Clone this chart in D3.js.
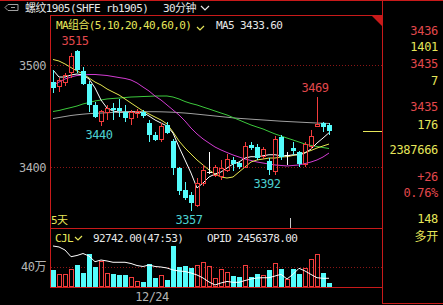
<!DOCTYPE html>
<html lang="zh">
<head>
<meta charset="UTF-8">
<title>螺纹1905 30分钟</title>
<script src="https://d3js.org/d3.v7.min.js"></script>
<style>
  body { margin: 0; background: #000; }
  svg { display: block; }
  text { font-family: "DejaVu Sans Mono", "Noto Sans CJK SC", monospace; }
</style>
</head>
<body>
<svg id="chart" width="443" height="305"></svg>
<script>
// 30-minute candles
const opens = [3483.6,3479,3483,3493,3514,3494,3481,3461,3444.5,3453.6,3458,3458,3453.6,3448,3452,3454,3443,3431,3426.5,3441,3425.5,3398.7,3377.5,3372.5,3362.5,3384,3395,3392,3390.5,3397,3407,3403.6,3400,3421.6,3420,3410,3405.9,3395.5,3429.7,3411,3419,3415,3402,3420,3439.5,3443,3441];
const highs = [3495,3487,3492.5,3512,3515,3498,3484,3464,3456,3461,3463,3467,3461,3456,3457,3456,3446,3434.6,3443,3444,3427,3400,3385.6,3375.8,3389,3402,3415,3402,3407,3413,3410,3405,3425,3425,3423,3420,3408.5,3430,3431,3415,3425,3415.7,3425,3436,3469,3444.4,3443];
const lows = [3472.5,3474,3479,3487,3492,3480,3454,3448,3440,3446,3446,3449,3444,3441,3448,3448,3425,3425.5,3424.5,3432,3392,3373,3367.6,3357,3361,3381,3393,3390,3387,3395.5,3395.6,3398.5,3399,3416.7,3407,3408,3392,3392,3407,3402,3412,3400,3400.3,3418,3439.5,3434.6,3431.4];
const closes = [3477,3485,3490,3508,3495,3481,3461,3449,3454,3457,3456,3455,3448,3453.6,3454,3450,3431,3426.5,3439.5,3433,3398.7,3376,3369.3,3364.4,3384,3397,3395,3400,3399,3407,3402.6,3400,3420,3419,3408.5,3416.7,3397,3426.5,3410,3411,3415.7,3402.6,3421.6,3429.7,3441.8,3439.5,3435];

// moving averages as drawn
const ma5 = [3495.1,3488.2,3488.2,3490.2,3491.2,3490.2,3486.3,3477.5,3465.7,3457.8,3454.9,3453.9,3453.9,3453.9,3453.9,3453.4,3450,3446.1,3443.1,3440.2,3433.3,3419.6,3406.9,3394.1,3379.4,3384.3,3390.2,3393.1,3395.1,3399,3402.9,3404.9,3408.8,3410.1,3410,3411,3412,3412,3411,3411,3412,3411.8,3413.7,3417.6,3423.5,3428.4,3433.6];
const ma10 = [3505.4,3503.9,3501,3497.5,3494.1,3491.2,3487.3,3483.3,3480.4,3476.5,3473.5,3470.6,3466.7,3462.7,3458.8,3454.9,3452,3449,3446.1,3442.2,3434.3,3425.5,3418.6,3412.7,3406.9,3402,3397.1,3393.1,3390.2,3389.2,3390.2,3395.1,3400,3404.9,3406.9,3407.8,3408.8,3408.8,3409.8,3410.1,3411.3,3412.7,3414.2,3416.2,3418.6,3420.6,3422.5];
const ma20 = [3480.4,3483.3,3486.3,3488.2,3489.7,3490.2,3490.7,3490.7,3490.2,3489.7,3488.7,3487.7,3486.8,3485.3,3482.4,3478.4,3474.5,3469.6,3465.7,3460.8,3455.9,3451,3445.1,3438.2,3432.4,3427.5,3423.5,3419.6,3416.7,3414.2,3411.8,3409.8,3407.8,3406.4,3404.9,3403.9,3402.9,3402,3401.5,3401,3401.5,3402,3403.4,3404.9,3406.9,3409.8,3413.7];
const ma40 = [3454.4,3455.4,3456.9,3458.3,3459.8,3461.8,3463.2,3464.7,3465.7,3466.7,3467.2,3467.6,3468.1,3468.6,3468.8,3469.1,3469.3,3469.6,3469.6,3469.6,3468.6,3466.7,3464.2,3462.3,3460.8,3458.8,3456.9,3454.9,3452.9,3451,3448.5,3446.1,3443.6,3441.2,3439.2,3437.3,3434.8,3432.4,3430.4,3428.4,3426.5,3424.5,3422.5,3421.1,3420.1,3419.1,3418.1];
const ma60 = [3447.5,3448.5,3449.5,3450.5,3451.2,3451.8,3452.3,3452.6,3452.9,3453.2,3453.5,3453.7,3453.9,3454.1,3454.2,3454.2,3454.2,3454.2,3454.1,3453.9,3453.7,3453.3,3452.9,3452.4,3451.8,3451.2,3450.6,3450,3449.4,3448.8,3448.2,3447.7,3447.3,3446.9,3446.5,3446.1,3445.7,3445.3,3444.9,3444.6,3444.3,3444,3443.7,3443.4,3443.1,3442.9,3442.7];

// volume (万手) and the open-interest trace, in the volume panel's units
const volumeWan = [33.6,25.2,25.2,35.5,43.3,28.4,64.1,40,49.7,27.2,25.2,23.9,23.9,19.4,12.2,9.7,44.7,18.6,22.5,14.2,80.2,40,42,36.9,43.3,47.8,40,17.5,33.6,29.1,21.9,19.4,41.4,19.4,25.2,22,33.6,46.6,35.5,14.2,35.5,25.2,36.9,54.4,64,27.2,7.8];
const opidTrace = [80.2,78.3,72.4,59.4,61.8,65.6,60.8,49.7,53,51.1,48.6,48.6,48.6,46.2,42.3,40.4,43.3,40.4,39.4,37.5,33.6,31.7,30.7,27.8,23.9,18.1,10.3,4.5,8.4,11.3,9.7,9.7,13.2,16.1,18.1,18.6,18.6,21.9,25.2,16.1,25.2,36.9,31.7,24.9,18.6,17.5,17.5];

const priceTicks = [3400, 3500];
const volTicks = [40];
const extremeIdx = [4, 8, 23, 36, 44];
const extremeKind = ["high", "low", "low", "low", "high"];
const lastPrice = 3435;
const dayBreakIdx = 39.5;
const dateLabel = "12/24";

const sideTexts = ["3436", "1401", "3435", "7", "3435", "176", "2387666", "+26", "0.76%", "148", "多开"];
const sideKinds = ["r", "y", "r", "y", "r", "y", "y", "r", "r", "y", "y"];

// colours
const FRAME = "#c81a1a", GRID = "#8a1616";
const UP = "#f23c3c", DOWN = "#54fcfc";
const RED_T = "#e2484c", YEL = "#e6e65a", CYAN_T = "#4cd0d0", GRAY_T = "#b4b4b4", WHITE_T = "#e6e6e6";

const svg = d3.select("#chart");
const plot = { left: 50, right: 382, top: 15, mainBottom: 228, volTop: 228, volBottom: 287 };

const x = d3.scaleLinear().domain([0, closes.length - 1]).range([53, 329]);
const y = d3.scaleLinear().domain([3400, 3500]).range([167, 65]);
const yVol = d3.scaleLinear().domain([0, 40]).range([287.3, 266.7]);

function txt(g, s, px, py, opt) {
    const t = g.append("text").attr("x", px).attr("y", py).text(s)
        .attr("fill", opt.fill)
        .attr("font-size", opt.size || 12)
        .attr("letter-spacing", opt.ls !== undefined ? opt.ls : -0.5)
        .attr("text-anchor", opt.anchor || "start");
    return t;
}

// ---- frame ----
const frame = svg.append("g").attr("shape-rendering", "crispEdges").attr("stroke", FRAME).attr("stroke-width", 1);
frame.append("line").attr("x1", 0).attr("x2", 443).attr("y1", 0.5).attr("y2", 0.5);
frame.append("line").attr("x1", plot.left).attr("x2", plot.right).attr("y1", 15.5).attr("y2", 15.5);
frame.append("line").attr("x1", plot.left + 0.5).attr("x2", plot.left + 0.5).attr("y1", 15).attr("y2", 288);
frame.append("line").attr("x1", plot.right + 0.5).attr("x2", plot.right + 0.5).attr("y1", 0).attr("y2", 304);
frame.append("line").attr("x1", plot.left).attr("x2", plot.right).attr("y1", 228.5).attr("y2", 228.5);
frame.append("line").attr("x1", plot.left).attr("x2", plot.right).attr("y1", 287.5).attr("y2", 287.5);
frame.append("line").attr("x1", plot.right).attr("x2", 443).attr("y1", 303.5).attr("y2", 303.5);
svg.append("path").attr("d", "M372,16L383,16L383,27Z").attr("fill", FRAME);

// ---- gridlines ----
const grid = svg.append("g").attr("shape-rendering", "crispEdges");
grid.selectAll(".pg").data(priceTicks).join("line")
    .attr("x1", plot.left + 1).attr("x2", plot.right)
    .attr("y1", d => Math.round(y(d)) + 0.5).attr("y2", d => Math.round(y(d)) + 0.5)
    .attr("stroke", GRID).attr("stroke-dasharray", "1,2");
grid.selectAll(".vg").data(volTicks).join("line")
    .attr("x1", plot.left + 1).attr("x2", plot.right)
    .attr("y1", d => Math.round(yVol(d)) + 0.5).attr("y2", d => Math.round(yVol(d)) + 0.5)
    .attr("stroke", GRID).attr("stroke-dasharray", "1,2");

// axis labels
const axisG = svg.append("g");
priceTicks.forEach(v => txt(axisG, String(v), 46, y(v) + 4.5, { fill: GRAY_T, anchor: "end" }));
volTicks.forEach(v => txt(axisG, v + "万", 46, yVol(v) + 4.5, { fill: GRAY_T, anchor: "end" }));
txt(axisG, dateLabel, 152, 301, { fill: GRAY_T, anchor: "middle" });

// day break tick
svg.append("line").attr("shape-rendering", "crispEdges")
    .attr("x1", Math.round(x(dayBreakIdx)) + 0.5).attr("x2", Math.round(x(dayBreakIdx)) + 0.5)
    .attr("y1", 218).attr("y2", 228).attr("stroke", "#c8c8c8");

// ---- moving averages ----
const maG = svg.append("g").attr("fill", "none").attr("stroke-width", 1);
const line = d3.line().x((d, i) => x(i)).y(d => y(d));
[[ma60, "#a0a0a0"], [ma40, "#3cc83c"], [ma20, "#d23cd2"], [ma10, "#e6e650"], [ma5, "#ffffff"]]
    .forEach(([arr, col]) => maG.append("path").datum(arr).attr("d", line).attr("stroke", col));

// ---- candles ----
const candleG = svg.append("g").attr("shape-rendering", "crispEdges");
closes.forEach((c, i) => {
    const o = opens[i], h = highs[i], l = lows[i];
    const cx = Math.round(x(i));
    const wx = cx + 0.5;
    if (c < o) {
        candleG.append("line").attr("x1", wx).attr("x2", wx).attr("y1", y(h)).attr("y2", y(l)).attr("stroke", DOWN);
        candleG.append("rect").attr("x", cx - 2).attr("y", y(o)).attr("width", 5)
            .attr("height", Math.max(1, y(c) - y(o))).attr("fill", DOWN);
    } else if (c > o) {
        candleG.append("line").attr("x1", wx).attr("x2", wx).attr("y1", y(h)).attr("y2", y(c)).attr("stroke", UP);
        candleG.append("line").attr("x1", wx).attr("x2", wx).attr("y1", y(o)).attr("y2", y(l)).attr("stroke", UP);
        candleG.append("rect").attr("x", cx - 1.5).attr("y", y(c)).attr("width", 4)
            .attr("height", Math.max(1, y(o) - y(c))).attr("fill", "none").attr("stroke", UP);
    } else {
        candleG.append("line").attr("x1", wx).attr("x2", wx).attr("y1", y(h)).attr("y2", y(l)).attr("stroke", "#ffffff");
        candleG.append("line").attr("x1", cx - 2).attr("x2", cx + 3).attr("y1", y(o)).attr("y2", y(o)).attr("stroke", "#ffffff");
    }
});

// high / low marks
const markG = svg.append("g");
extremeIdx.forEach((idx, k) => {
    const isHigh = extremeKind[k] === "high";
    const v = isHigh ? highs[idx] : lows[idx];
    const py = isHigh ? y(v) - 5 : y(v) + 13;
    txt(markG, String(v), x(idx) - 2, py, { fill: isHigh ? RED_T : CYAN_T, anchor: "middle" });
});

// last price marker
svg.append("line").attr("shape-rendering", "crispEdges")
    .attr("x1", 363).attr("x2", plot.right)
    .attr("y1", Math.round(y(lastPrice)) + 0.5).attr("y2", Math.round(y(lastPrice)) + 0.5)
    .attr("stroke", YEL);

// ---- volume ----
const volG = svg.append("g").attr("shape-rendering", "crispEdges");
volumeWan.forEach((v, i) => {
    const cx = Math.round(x(i));
    const top = yVol(v), base = 287;
    if (closes[i] < opens[i]) {
        volG.append("rect").attr("x", cx - 2).attr("y", top).attr("width", 5).attr("height", base - top).attr("fill", DOWN);
    } else {
        volG.append("rect").attr("x", cx - 1.5).attr("y", top).attr("width", 4).attr("height", base - top - 0.5)
            .attr("fill", "none").attr("stroke", UP);
    }
});
svg.append("path").datum(opidTrace)
    .attr("d", d3.line().x((d, i) => x(i)).y(d => yVol(d)))
    .attr("fill", "none").attr("stroke", "#ffffff").attr("stroke-width", 1);

// ---- header texts ----
const head = svg.append("g");
head.append("path").attr("d", "M5,7.5L8,4.5L18,4.5L18,10.5L8,10.5Z M11,7.5L15,7.5")
    .attr("fill", "none").attr("stroke", "#a0a0a0");
txt(head, "螺纹1905(SHFE rb1905)", 25, 12, { fill: WHITE_T, size: 11, ls: -0.6 });
txt(head, "30分钟", 163, 12, { fill: WHITE_T, size: 11, ls: -0.6 });
head.append("path").attr("d", "M201,6L205,10L209,6").attr("fill", "none").attr("stroke", WHITE_T).attr("stroke-width", 1.2);

txt(head, "MA组合(5,10,20,40,60,0)", 56, 29, { fill: YEL, size: 11, ls: -0.6 });
head.append("path").attr("d", "M197,27L200,30L204,26").attr("fill", "none").attr("stroke", YEL).attr("stroke-width", 1.2);
txt(head, "MA5 " + ma5[ma5.length - 1].toFixed(2), 216, 29, { fill: WHITE_T, size: 11, ls: -0.6 });

txt(head, "5天", 51, 224, { fill: YEL, size: 11, ls: -0.6 });

txt(head, "CJL", 55, 242, { fill: YEL, size: 11, ls: -0.6 });
head.append("path").attr("d", "M75,237L78,240L82,236").attr("fill", "none").attr("stroke", YEL).attr("stroke-width", 1.2);
txt(head, "92742.00(47:53)", 93, 242, { fill: WHITE_T, size: 11, ls: -0.6 });
txt(head, "OPID 2456378.00", 207, 242, { fill: WHITE_T, size: 11, ls: -0.6 });

// ---- right quote panel ----
const sideY = [30, 46.7, 63.3, 80, 106.7, 124, 149.5, 176.7, 192.7, 218.3, 236.7];
const side = svg.append("g");
sideTexts.forEach((s, i) => {
    txt(side, s, 438, sideY[i] + 4.5, { fill: sideKinds[i] === "r" ? RED_T : YEL, size: 12, ls: -0.3, anchor: "end" });
});
</script>
</body>
</html>
